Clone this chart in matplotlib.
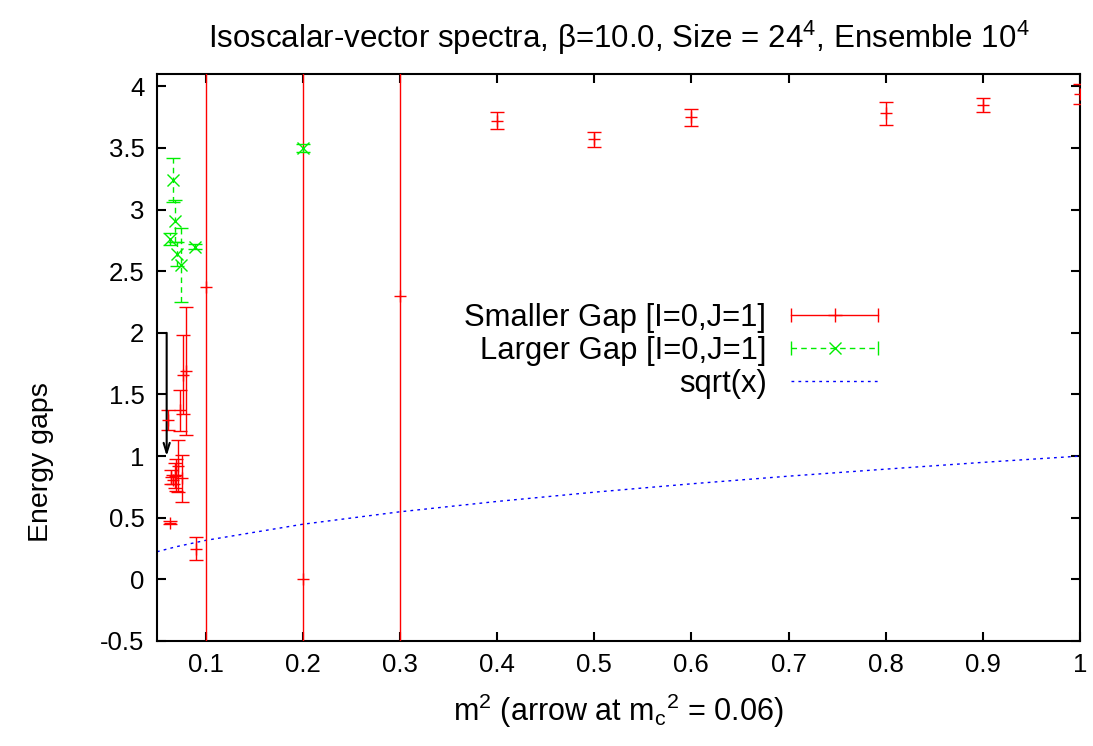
import matplotlib
matplotlib.use('Agg')
import matplotlib.pyplot as plt
from matplotlib.lines import Line2D
from matplotlib.legend_handler import HandlerLine2D, HandlerTuple

plt.rcParams['font.family'] = ['Liberation Sans', 'DejaVu Sans']
plt.rcParams['mathtext.fontset'] = 'custom'
plt.rcParams['mathtext.rm'] = 'Liberation Sans'
plt.rcParams['mathtext.it'] = 'Liberation Sans'

# Smaller Gap [I=0,J=1]
small_x = [0.0634, 0.061, 0.0645, 0.0665, 0.0685, 0.070, 0.0713, 0.0737, 0.0754,
           0.077, 0.0798, 0.0898, 0.1, 0.2, 0.3, 0.4, 0.5, 0.6, 0.8, 0.9, 1.0]
small_y = [0.46, 1.29, 0.83, 0.81, 0.84, 0.85, 0.92, 1.37, 0.82,
           1.66, 1.69, 0.25, 2.37, 0.0, 2.30, 3.72, 3.57, 3.75, 3.78, 3.85, 3.94]
small_err = [0.01, 0.08, 0.06, 0.04, 0.10, 0.13, 0.21, 0.17, 0.19,
             0.32, 0.52, 0.09, 100, 100, 100, 0.07, 0.06, 0.07, 0.09, 0.055, 0.08]

# Larger Gap [I=0,J=1]
large_x = [0.0668, 0.0685, 0.0634, 0.0702, 0.0743, 0.0893, 0.2]
large_y = [3.24, 2.91, 2.76, 2.64, 2.55, 2.70, 3.50]
large_err = [0.18, 0.17, 0.05, 0.10, 0.30, 0.02, 0.03]

# sqrt(x) reference curve
ref_x = [0.05, 0.07, 0.1, 0.2, 0.3, 0.4, 0.5, 0.6, 0.7, 0.8, 0.9, 1.0]
ref_y = [0.224, 0.265, 0.316, 0.447, 0.548, 0.632, 0.707, 0.775, 0.837, 0.894, 0.949, 1.0]

# arrow marking m_c^2
arrow_x = 0.06
arrow_from = 2.0
arrow_to = 1.0

fig = plt.figure(figsize=(10.93, 7.46), dpi=100)
ax = fig.add_axes([0.1436, 0.1408, 0.8445, 0.7600])

ax.errorbar(small_x, small_y, yerr=small_err, fmt='+', color='#ff0000', ms=8,
            mew=1.0, elinewidth=1.0, capsize=5, capthick=1.0, zorder=3)
eb = ax.errorbar(large_x, large_y, yerr=large_err, fmt='x', color='#00ee00', ms=8,
                 mew=1.0, elinewidth=1.0, capsize=5, capthick=1.0, zorder=3)
for c in eb[2]:
    c.set_linestyle((0, (4, 3)))
ax.plot(ref_x, ref_y, color='#0000ff', lw=1.0, ls=(0, (2, 3)), zorder=2)

ax.annotate('', xy=(arrow_x, arrow_to), xytext=(arrow_x, arrow_from),
            arrowprops=dict(arrowstyle='->,head_length=0.7,head_width=0.22',
                            color='black', lw=1.5, shrinkA=0, shrinkB=0))

ax.set_xlim(0.05, 1.0)
ax.set_ylim(-0.5, 4.1)
ax.set_xticks([0.1, 0.2, 0.3, 0.4, 0.5, 0.6, 0.7, 0.8, 0.9, 1.0])
ax.set_xticklabels(['0.1', '0.2', '0.3', '0.4', '0.5', '0.6', '0.7', '0.8', '0.9', '1'])
ax.set_yticks([-0.5, 0, 0.5, 1, 1.5, 2, 2.5, 3, 3.5, 4])
ax.set_yticklabels(['-0.5', '0', '0.5', '1', '1.5', '2', '2.5', '3', '3.5', '4'])
ax.tick_params(direction='in', length=6.5, width=1.5, top=True, right=True,
               labelsize=18.5, pad=9)
for s in ax.spines.values():
    s.set_linewidth(1.5)

ax.set_xlabel(r'm$^2$ (arrow at m$_{\rm c}{}^2$ = 0.06)', fontsize=22, labelpad=10)
ax.set_ylabel('Energy gaps', fontsize=20.5)
ax.yaxis.set_label_coords(-0.111, 0.316)
ax.set_title(r'Isoscalar-vector spectra, $\beta$=10.0, Size = 24$^4$, Ensemble 10$^4$',
             fontsize=22.5, pad=19)

# gnuplot style key: line with end ticks and point in the middle
h1_line = Line2D([], [], color='#ff0000', lw=1.0, marker='|', ms=10, mew=1.0)
h1_pt = Line2D([], [], color='#ff0000', ls='none', marker='+', ms=10, mew=1.0)
h2_line = Line2D([], [], color='#00ee00', lw=1.0, ls=(0, (4, 3)), marker='|', ms=10, mew=1.0)
h2_pt = Line2D([], [], color='#00ee00', ls='none', marker='x', ms=9, mew=1.0)
h3 = Line2D([], [], color='#0000ff', lw=1.0, ls=(0, (2, 3)))
hmap = {tuple: HandlerTuple(ndivide=1),
        h1_line: HandlerLine2D(numpoints=2, marker_pad=0),
        h2_line: HandlerLine2D(numpoints=2, marker_pad=0),
        h1_pt: HandlerLine2D(numpoints=1),
        h2_pt: HandlerLine2D(numpoints=1)}
leg = ax.legend([(h1_line, h1_pt), (h2_line, h2_pt), h3],
                ['Smaller Gap [I=0,J=1]', 'Larger Gap [I=0,J=1]', 'sqrt(x)'],
                handler_map=hmap, markerfirst=False, frameon=False, fontsize=22.3,
                handlelength=2.8, handletextpad=0.8, labelspacing=0.1,
                loc='upper right', bbox_to_anchor=(878 / 1093, 1 - 303 / 746),
                bbox_transform=fig.transFigure, borderaxespad=0, borderpad=0)
for t in leg.get_texts():
    t.set_ha('right')

fig.savefig('out.png', dpi=100)
